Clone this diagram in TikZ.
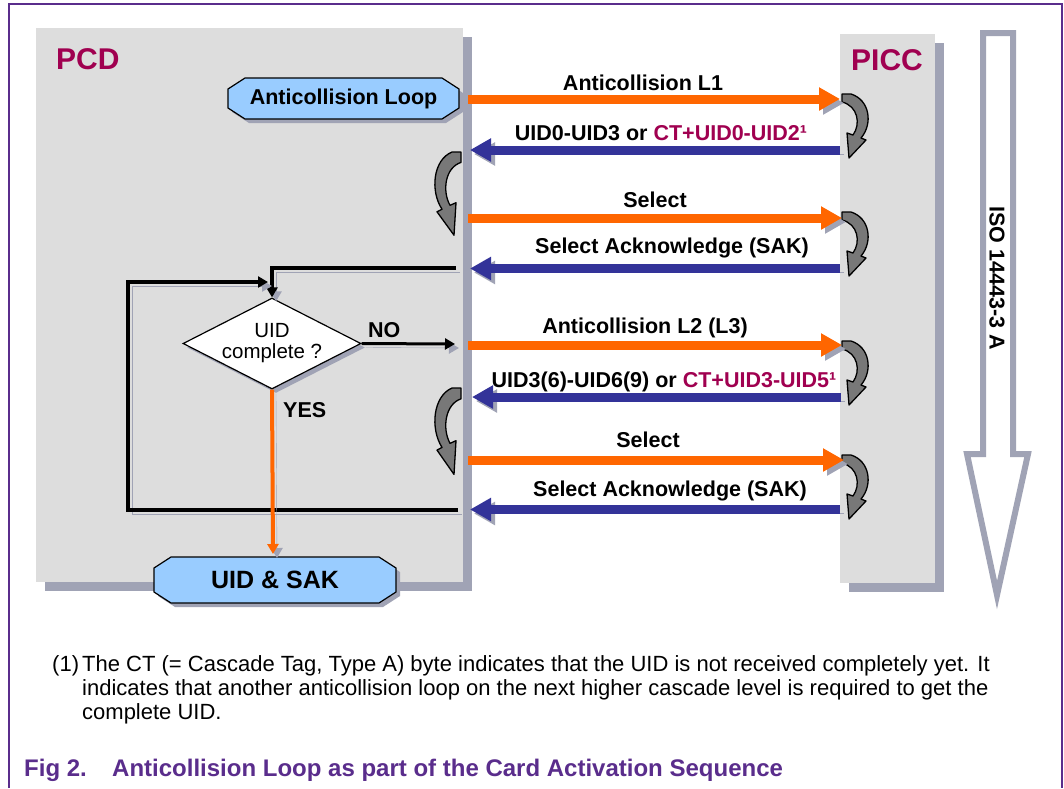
\documentclass[tikz,border=0pt]{standalone}
\usepackage{fontspec}
\setmainfont{Liberation Sans}
\usetikzlibrary{positioning,arrows.meta,shapes.geometric,shadows}

\definecolor{pcdred}{RGB}{160,0,80}
\definecolor{panelgray}{RGB}{221,221,221}
\definecolor{shadowgray}{RGB}{160,163,181}
\definecolor{boxblue}{RGB}{153,204,255}
\definecolor{reqorange}{RGB}{255,102,0}
\definecolor{ansblue}{RGB}{51,51,153}
\definecolor{curlgray}{RGB}{120,120,120}
\definecolor{framepurple}{RGB}{90,45,140}

\tikzset{
  curl/.pic={
    \filldraw[fill=curlgray, draw=black, line width=1.3pt, line join=round]
      (0,0) -- (9,0) .. controls (28,6) and (31,30) .. (19,44) -- (24,46)
      -- (7,64) -- (5,39) -- (11,41) .. controls (19,30) and (16,12) .. (0,8) -- cycle;
  }
}

\begin{document}
\begin{tikzpicture}[
    x=1pt, y=-1pt,
    node distance=12pt,
    shadowed/.style={preaction={draw=shadowgray, transform canvas={shift={(4pt,-4pt)}}}},
    panel/.style={rectangle, fill=panelgray, inner sep=0pt, outer sep=0pt, anchor=north west,
        drop shadow={shadow xshift=9pt, shadow yshift=-9pt, fill=shadowgray, opacity=1}},
    boxshape/.style={draw=black, line width=1.2pt, fill=boxblue,
        preaction={fill=shadowgray, transform canvas={shift={(4pt,-4pt)}}}},
    boxtext/.style={font=\bfseries\fontsize{21.5}{24}\selectfont, inner sep=0pt},
    decision/.style={diamond, draw=black, line width=1.2pt, fill=white, inner sep=0pt,
        minimum width=178pt, minimum height=91pt,
        drop shadow={shadow xshift=4pt, shadow yshift=-4pt, fill=shadowgray, opacity=1}},
    title/.style={font=\bfseries\fontsize{30}{34}\selectfont, text=pcdred, anchor=base west, inner sep=0pt},
    msg/.style={font=\bfseries\fontsize{21.5}{24}\selectfont, anchor=base, inner sep=0pt},
    request/.style={draw=reqorange, line width=9pt, -{Triangle[length=21pt,width=22pt]}, shadowed},
    answer/.style={draw=ansblue, line width=9pt, -{Triangle[length=21pt,width=22pt]}, shadowed},
    flow/.style={draw=black, line width=4pt, -{Triangle[length=10pt,width=11pt]}, shadowed},
    note/.style={font=\fontsize{22}{24}\selectfont, anchor=base west, inner sep=0pt, align=left}
]

% Frame
\fill[white] (0,0) rectangle (1064,788);
\useasboundingbox (0,0) rectangle (1064,788);
\draw[framepurple, line width=1.5pt] (9,788) -- (9,4) -- (1062,4) -- (1062,788);

% Panels
\node[panel, minimum width=427pt, minimum height=554pt] (pcd) at (36,28) {};
\node[panel, minimum width=95pt, minimum height=549pt] (picc) at (840,34) {};
\node[title] (pcdname) at (56,69) {PCD};
\node[title] (piccname) at (851,70) {PICC};

% ISO arrow
\draw[draw=shadowgray, line width=6pt] (983,33) -- (1013,33) -- (1013,454) -- (1028,454) -- (997,595) -- (967,454) -- (983,454) -- cycle;
\node[msg, anchor=center, rotate=-90] (iso) at (997,278) {ISO 14443-3 A};

% Curls
\pic at (842,94) {curl};
\pic at (842,212) {curl};
\pic at (842,341) {curl};
\pic at (842,455) {curl};
\pic[xscale=-1, yscale=1.3] at (461,152) {curl};
\pic[xscale=-1, yscale=1.35] at (461,388) {curl};

% Nodes
\filldraw[boxshape] (245,78) -- (442,78) -- (459,89) -- (459,108) -- (442,119) -- (245,119) -- (228,108) -- (228,89) -- cycle;
\node[boxtext] (start) at (343.5,98.5) {Anticollision Loop};
\node[decision] (check) at (272,343.5) {};
\node[font=\fontsize{20.5}{21}\selectfont, align=center] (checktext) at (check) {UID\\complete ?};
\filldraw[boxshape] (171,557) -- (379,557) -- (396,568) -- (396,592) -- (379,603) -- (171,603) -- (154,592) -- (154,568) -- cycle;
\node[boxtext, font=\bfseries\fontsize{25}{28}\selectfont] (done) at (275,580) {UID \& SAK};
\coordinate (donetop) at (273,557);

% Message ends
\coordinate (pcd1) at (468,99);    \coordinate (picc1) at (840,99);
\coordinate (pcd2) at (470,150);   \coordinate (picc2) at (840,150);
\coordinate (pcd3) at (468,218);   \coordinate (picc3) at (842,218);
\coordinate (pcd4) at (470,268.5); \coordinate (picc4) at (840,268.5);
\coordinate (pcd5) at (468,345);   \coordinate (picc5) at (842,345);
\coordinate (pcd6) at (472,397);   \coordinate (picc6) at (841,397);
\coordinate (pcd7) at (468,460);   \coordinate (picc7) at (844,460);
\coordinate (pcd8) at (470,509.5); \coordinate (picc8) at (840,509.5);

% Arrows
\draw[request] (pcd1) -- (picc1);
\draw[answer] (picc2) -- (pcd2);
\draw[request] (pcd3) -- (picc3);
\draw[answer] (picc4) -- (pcd4);
\draw[request] (pcd5) -- (picc5);
\draw[answer] (picc6) -- (pcd6);
\draw[request] (pcd7) -- (picc7);
\draw[answer] (picc8) -- (pcd8);

% Labels
\node[msg] (m1) at (643,90) {Anticollision L1};
\node[msg] (m2) at (661,140) {UID0-UID3 or \textcolor{pcdred}{CT+UID0-UID2¹}};
\node[msg] (m3) at (655,207) {Select};
\node[msg] (m4) at (672,253) {Select Acknowledge (SAK)};
\node[msg] (m5) at (645,333) {Anticollision L2 (L3)};
\node[msg] (m6) at (664,387) {UID3(6)-UID6(9) or \textcolor{pcdred}{CT+UID3-UID5¹}};
\node[msg] (m7) at (648,447) {Select};
\node[msg] (m8) at (670,496) {Select Acknowledge (SAK)};

% Loop
\coordinate (back1) at (456,268);
\coordinate (back2) at (458,510);
\coordinate (ret) at (128,282);
\coordinate (join) at (268,282);
\coordinate (noend) at (455,344);
\draw[flow] (back1) -| (check.north);
\draw[flow] (back2) -| (ret) -- (join);
\draw[flow, line width=3pt] (check.east) -- (noend);
\draw[flow, draw=reqorange, shorten >=3pt] (check.south) -- (donetop);
\node[msg, anchor=base west] (no) at (368,337) {NO};
\node[msg, anchor=base west] (yes) at (283,417) {YES};

% Footnote and caption
\node[note] (fnum) at (52,671) {(1)};
\node[note] (fnote) at (82,719) {The CT (= Cascade Tag, Type A) byte indicates that the UID is not received completely yet. It\\indicates that another anticollision loop on the next higher cascade level is required to get the\\complete UID.};
\node[font=\bfseries\fontsize{24}{28}\selectfont, text=framepurple, anchor=base west, inner sep=0pt] (fignum) at (24,776) {Fig 2.};
\node[font=\bfseries\fontsize{24}{28}\selectfont, text=framepurple, anchor=base west, inner sep=0pt] (figtitle) at (112,776) {Anticollision Loop as part of the Card Activation Sequence};

\end{tikzpicture}
\end{document}
